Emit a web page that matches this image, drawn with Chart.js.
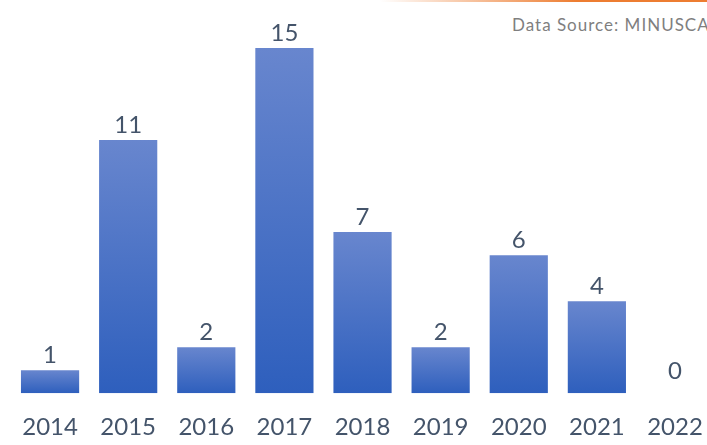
<!DOCTYPE html>
<html>
<head>
<meta charset="utf-8">
<script src="https://cdn.jsdelivr.net/npm/chart.js@4"></script>
<style>
  html, body { margin: 0; padding: 0; background: #fff; }
  body { width: 707px; height: 445px; overflow: hidden; position: relative; }
  #topline { position: absolute; left: 380px; top: 0; width: 327px; height: 2px;
    background: linear-gradient(to right, rgba(237,125,49,0), #ed7d31 60%); }
  #source { position: absolute; left: 512px; top: 14px; white-space: nowrap;
    font-family: Lato, 'Noto Sans', sans-serif; font-size: 17px; color: #7f7f7f; letter-spacing: 1px; }
  #wrap { position: absolute; left: 0; top: 0; width: 723px; height: 466px; }
</style>
</head>
<body>
<div id="topline"></div>
<div id="source">Data Source: MINUSCA</div>
<div id="wrap"><canvas id="chart"></canvas></div>
<script>
  var years = ['2014', '2015', '2016', '2017', '2018', '2019', '2020', '2021', '2022'];
  var counts = [1, 11, 2, 15, 7, 2, 6, 4, 0];

  var textColor = '#44546a';
  var fontFamily = "Lato, 'Noto Sans', sans-serif";

  /* value labels above each bar */
  var valueLabels = {
    id: 'valueLabels',
    afterDatasetsDraw: function (chart) {
      var c = chart.ctx;
      var meta = chart.getDatasetMeta(0);
      c.save();
      c.font = '24px ' + fontFamily;
      c.fillStyle = textColor;
      c.textAlign = 'center';
      c.textBaseline = 'bottom';
      meta.data.forEach(function (bar, i) {
        var v = counts[i];
        var off = v === 0 ? 10 : 3;
        c.fillText(String(v), bar.x, bar.y - off);
      });
      c.restore();
    }
  };

  new Chart(document.getElementById('chart'), {
    type: 'bar',
    data: {
      labels: years,
      datasets: [{
        data: counts,
        backgroundColor: function (ctx) {
          var chart = ctx.chart;
          var y = chart.scales.y;
          if (!y || ctx.raw === undefined) return '#4472c4';
          var top = y.getPixelForValue(ctx.raw);
          var base = y.getPixelForValue(0);
          if (!isFinite(top) || !isFinite(base) || Math.abs(base - top) < 1) return '#4472c4';
          var g = chart.ctx.createLinearGradient(0, top, 0, base);
          g.addColorStop(0, '#6886ce');
          g.addColorStop(1, '#2e5fbd');
          return g;
        },
        borderWidth: 0,
        categoryPercentage: 1,
        barPercentage: 0.745
      }]
    },
    options: {
      responsive: true,
      maintainAspectRatio: false,
      animation: false,
      layout: { padding: { left: 11, right: 3, top: 25, bottom: 4 } },
      plugins: {
        legend: { display: false },
        tooltip: { enabled: false }
      },
      scales: {
        x: {
          grid: { display: false, drawTicks: false },
          border: { display: false },
          ticks: { color: textColor, font: { family: fontFamily, size: 24 }, padding: 20 }
        },
        y: {
          display: false,
          min: 0,
          max: 16
        }
      }
    },
    plugins: [valueLabels]
  });
</script>
</body>
</html>
